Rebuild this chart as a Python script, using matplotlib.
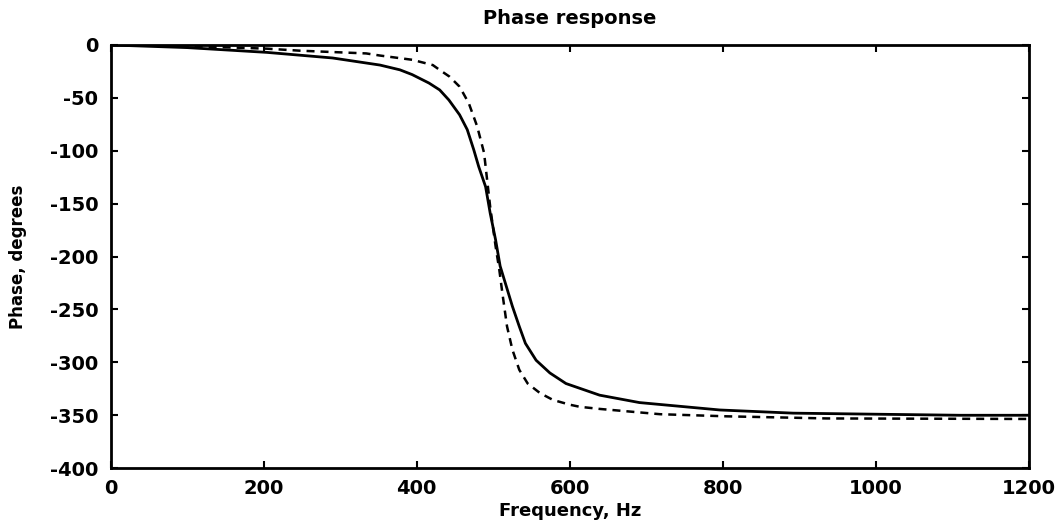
import matplotlib.pyplot as plt
import numpy as np

# values
solid_freq = [0, 100, 204, 290, 352, 378, 394, 416, 430, 442, 456, 466, 474.5, 481,
              490, 496, 503, 509, 517, 525, 534, 542, 556, 574, 595, 613, 639, 691,
              796, 892, 1000, 1110, 1200]
solid_phase = [0, -2.5, -7, -12.3, -19, -23.5, -28, -36, -42.5, -52, -66, -80, -99,
               -115, -134, -159, -184, -209, -228, -247, -266, -282, -298, -310, -320,
               -324.5, -331, -338, -345, -348, -349, -350, -350]

dashed_freq = [0, 100, 204, 247, 334, 352, 394, 421, 430, 443, 456, 468, 479, 488,
               492, 496, 503, 508, 512, 518, 525, 534, 545, 561, 578, 600, 613, 639,
               718, 805, 936, 1200]
dashed_phase = [0, -1, -3.5, -5.4, -8, -10, -14, -19, -23.6, -30, -39.4, -55, -77,
                -102, -127.6, -153, -190, -213, -235, -266, -288, -307, -320, -329,
                -335.5, -340, -342, -344, -349, -351, -353, -353.5]

x_ticks = [0, 200, 400, 600, 800, 1000, 1200]
y_ticks = [0, -50, -100, -150, -200, -250, -300, -350, -400]

plt.rcParams['font.family'] = ['DejaVu Sans']
plt.rcParams['axes.unicode_minus'] = False

fig = plt.figure(figsize=(10.64, 5.29), dpi=100)
ax = fig.add_axes([0.104, 0.115, 0.863, 0.8])

ax.plot(np.array(solid_freq), np.array(solid_phase), color='black', linewidth=2)
ax.plot(np.array(dashed_freq), np.array(dashed_phase), color='black', linewidth=1.8,
        linestyle=(0, (3.2, 2.4)))

ax.set_xlim(0, 1200)
ax.set_ylim(-400, 0)
ax.set_xticks(x_ticks)
ax.set_yticks(y_ticks)
ax.tick_params(direction='in', top=True, right=True, length=5, width=1.5,
               labelsize=14)
ax.tick_params(axis='x', pad=8)
ax.tick_params(axis='y', pad=9)
for lab in ax.get_xticklabels() + ax.get_yticklabels():
    lab.set_fontweight('bold')
for sp in ax.spines.values():
    sp.set_linewidth(2)

ax.set_title('Phase response', fontsize=14, fontweight='bold', pad=15)
ax.set_xlabel('Frequency, Hz', fontsize=13, fontweight='bold', labelpad=3)
ax.set_ylabel('Phase, degrees', fontsize=12, fontweight='bold', labelpad=16)

fig.savefig('out.png', dpi=100)
